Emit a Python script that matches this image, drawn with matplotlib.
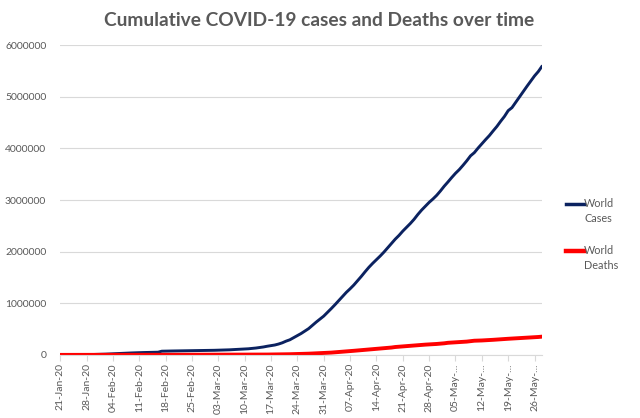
import numpy as np
import pandas as pd
import matplotlib
matplotlib.use('Agg')
import matplotlib.pyplot as plt
import matplotlib.dates as mdates
from matplotlib.lines import Line2D

# Donnees cumulees (21-Jan-20 -> 28-May-20)
cases_jan = [282, 314, 581, 846, 1320, 2014, 2798, 4593, 6065, 7818, 9826]
cases_feb = [11953, 14557, 17391, 20630, 24554, 28276, 31481, 34886, 37558, 40554,
             43103, 45171, 46997, 49053, 50580, 51857, 71429, 73332, 75204, 75748,
             76769, 77794, 78811, 79331, 80239, 81109, 82294, 83652, 85403]
cases_mar = [87137, 88948, 90869, 93090, 95324, 98192, 101927, 105586, 109577, 113702,
             118319, 125048, 132758, 142539, 153517, 167511, 179111, 191127, 209839, 234073,
             266073, 292142, 332930, 372757, 414179, 462684, 509164, 571678, 634835, 693224,
             750890]
cases_apr = [823626, 896450, 972303, 1051635, 1133758, 1210956, 1279722, 1353361, 1436198, 1521252,
             1610909, 1696588, 1773084, 1844863, 1914916, 1991562, 2074529, 2160207, 2241778, 2314621,
             2397216, 2471136, 2544792, 2626321, 2719896, 2804796, 2878196, 2954222, 3018952, 3090445]
cases_may = [3175207, 3267184, 3349786, 3435894, 3517345, 3588773, 3672238, 3759967, 3855788, 3917366,
             4006257, 4088848, 4170424, 4248389, 4338658, 4425485, 4525497, 4618821, 4731458, 4789205,
             4893186, 4993470, 5103006, 5204508, 5304772, 5404512, 5488825, 5593631]

deaths_jan = [6, 6, 18, 25, 41, 56, 80, 106, 132, 170, 213]
deaths_feb = [259, 305, 362, 426, 492, 565, 638, 724, 813, 910,
              1018, 1115, 1369, 1383, 1526, 1669, 1775, 1873, 2009, 2129,
              2247, 2360, 2462, 2618, 2699, 2762, 2804, 2858, 2924]
deaths_mar = [2977, 3043, 3110, 3198, 3285, 3380, 3486, 3584, 3809, 4012,
              4292, 4613, 4955, 5393, 5735, 6606, 7426, 7807, 8778, 9840,
              11184, 12784, 14509, 16231, 18440, 20834, 23335, 26494, 29957, 33106,
              36405]
deaths_apr = [40598, 44132, 50321, 56985, 62784, 67594, 72614, 79235, 85522, 92798,
              99690, 105952, 111652, 117021, 123010, 128886, 134354, 142229, 152551, 157847,
              162956, 169006, 175694, 181938, 187705, 193710, 198668, 202597, 207973, 211609]
deaths_may = [217769, 224172, 234112, 239604, 243401, 247503, 252407, 257239, 265862, 274361,
              275976, 279311, 283153, 287250, 291942, 297241, 302059, 307395, 312009, 316169,
              318789, 323256, 328115, 332924, 337687, 342029, 346700, 353334]

tick_labels = ['21-Jan-20', '28-Jan-20', '04-Feb-20', '11-Feb-20', '18-Feb-20', '25-Feb-20',
               '03-Mar-20', '10-Mar-20', '17-Mar-20', '24-Mar-20', '31-Mar-20', '07-Apr-20',
               '14-Apr-20', '21-Apr-20', '28-Apr-20', '05-May-...', '12-May-...', '19-May-...',
               '26-May-...']

series_noms = [['World', 'Cases'], ['World', 'Deaths']]

cases = cases_jan + cases_feb + cases_mar + cases_apr + cases_may
deaths = deaths_jan + deaths_feb + deaths_mar + deaths_apr + deaths_may
dates = pd.date_range('2020-01-21', periods=len(cases), freq='D')

GRIS = '#595959'
plt.rcParams['font.family'] = ['Lato', 'DejaVu Sans']

fig = plt.figure(figsize=(6.4, 4.18), dpi=100)
ax = fig.add_axes([0.094, 0.151, 0.753, 0.741])

l1, = ax.plot(dates, cases, color='#0b2260', linewidth=2.1, solid_capstyle='round')
l2, = ax.plot(dates, deaths, color='#ff0000', linewidth=2.8, solid_capstyle='round')

ax.set_ylim(0, 6000000)
ax.set_yticks(np.arange(0, 6000001, 1000000))
ax.yaxis.set_major_formatter(plt.FuncFormatter(lambda v, p: '%d' % v))
ax.set_xlim(dates[0], dates[-1])
ticks = pd.date_range('2020-01-21', periods=len(tick_labels), freq='7D')
ax.set_xticks(ticks)
ax.set_xticklabels(tick_labels, rotation=90)

ax.grid(axis='y', color='#d9d9d9', linewidth=0.8)
ax.set_axisbelow(True)
for s in ['top', 'right', 'left']:
    ax.spines[s].set_visible(False)
ax.spines['bottom'].set_color('#d9d9d9')
ax.spines['bottom'].set_linewidth(0.8)
ax.tick_params(axis='y', length=0, labelsize=7.5, labelcolor=GRIS, pad=10)
ax.tick_params(axis='x', length=4, color='#d9d9d9', labelsize=7.5, labelcolor=GRIS, pad=2)

fig.suptitle('Cumulative COVID-19 cases and Deaths over time', x=0.499, y=0.972,
             fontsize=13.8, fontweight='bold', color=GRIS)

# Legende a droite, a la facon d'Excel (trait aligne sur la premiere ligne)
y_leg = [0.512, 0.400]
for line, noms, y in zip([l1, l2], series_noms, y_leg):
    fig.add_artist(Line2D([0.884, 0.912], [y, y], transform=fig.transFigure,
                          color=line.get_color(), linewidth=line.get_linewidth() + 0.4))
    fig.text(0.913, y, noms[0], va='center', ha='left', fontsize=7.8, color=GRIS)
    fig.text(0.913, y - 0.034, noms[1], va='center', ha='left', fontsize=7.8, color=GRIS)

plt.savefig('out.png', dpi=100)
